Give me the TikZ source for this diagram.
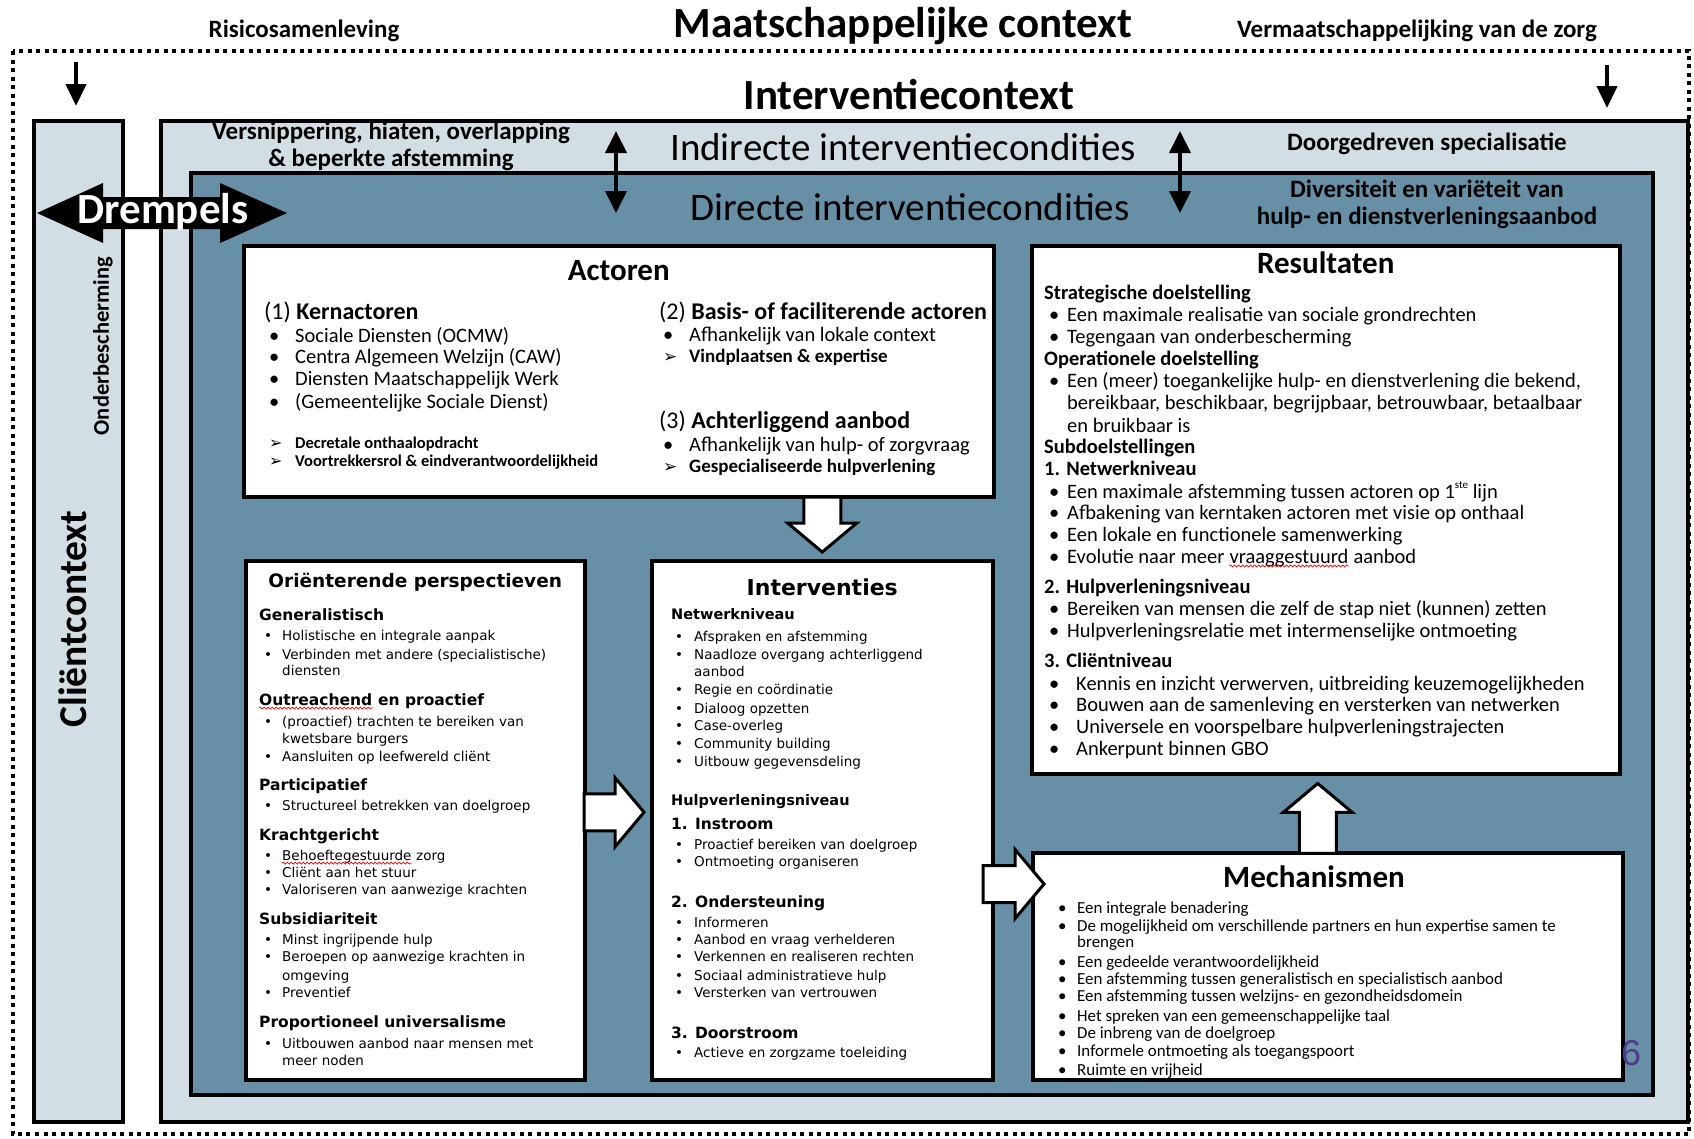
\documentclass[tikz,border=0pt]{standalone}
\usepackage{fontspec}
\setmainfont{Carlito}
\newfontfamily\verd{DejaVu Sans}
\newfontfamily\arialfont{Liberation Sans}
\usetikzlibrary{arrows.meta,shapes.arrows,calc,decorations.pathmorphing}

\definecolor{ctxlight}{HTML}{D2DDE4}
\definecolor{ctxdark}{HTML}{678FA6}
\definecolor{slidenr}{HTML}{4E3A8A}

\newcommand{\fs}[1]{\fontsize{#1}{#1}\selectfont}

\tikzset{
  ctxbox/.style={draw, line width=3.5pt, anchor=north west, inner sep=0pt},
  panel/.style={ctxbox, fill=white},
  bigtitle/.style={font=\fs{43}\bfseries},
  condtitle/.style={font=\fs{39}},
  ctxlabel/.style={font=\fontsize{25}{27}\selectfont\bfseries},
  boxtitle/.style={font=\fs{31}\bfseries},
  pushdown/.style={line width=4pt, -{Triangle[length=22pt, width=20pt]}},
  duoarrow/.style={line width=4pt, {Triangle[length=22pt, width=21pt]}-{Triangle[length=22pt, width=21pt]}},
  blockarrow/.style={single arrow, draw, fill=white, line width=3pt, inner sep=0pt, anchor=tip,
    text height=34pt, text depth=0pt, single arrow head extend=16pt, single arrow tip angle=100},
  spellwave/.style={red, line width=.7pt, decorate, decoration={snake, amplitude=1pt, segment length=4pt}},
  tl/.style={anchor=base west, inner sep=0pt},
  % Actoren
  act-h/.style={tl, yshift=-7pt, font=\fs{24}},
  act-b/.style={tl, yshift=-6pt, font=\fs{20.5}, execute at begin node={\makebox[26pt][l]{•}}},
  act-s/.style={tl, yshift=-5pt, font=\fs{16.5}\bfseries, execute at begin node={\makebox[26pt][l]{\verd\fs{16}➢}}},
  act-a/.style={tl, yshift=-5.5pt, font=\fs{19}\bfseries, execute at begin node={\makebox[26pt][l]{\verd\fs{17}➢}}},
  % Resultaten
  res-h/.style={tl, xshift=-5pt, yshift=-6pt, font=\fs{20.5}\bfseries},
  res-b/.style={tl, yshift=-6pt, font=\fs{20.5}, execute at begin node={\makebox[18pt][l]{•}}},
  res-c/.style={tl, xshift=18pt, yshift=-6pt, font=\fs{20.5}},
  res-d/.style={tl, yshift=-6pt, font=\fs{20.5}, execute at begin node={\makebox[27pt][l]{•}}},
  % Orienterende perspectieven
  or-h/.style={tl, xshift=-5pt, yshift=-5pt, font=\verd\bfseries\fs{15.5}},
  or-b/.style={tl, yshift=-4pt, font=\verd\fs{13.5}, execute at begin node={\makebox[18pt][l]{•}}},
  or-c/.style={tl, xshift=18pt, yshift=-4pt, font=\verd\fs{13.5}},
  % Interventies
  int-h/.style={tl, xshift=-4pt, yshift=-4.5pt, font=\verd\bfseries\fs{14.5}},
  int-s/.style={tl, xshift=-4pt, yshift=-5pt, font=\verd\bfseries\fs{15.5}},
  int-b/.style={tl, yshift=-4pt, font=\verd\fs{13.5}, execute at begin node={\makebox[19pt][l]{•}}},
  int-c/.style={tl, xshift=19pt, yshift=-4pt, font=\verd\fs{13.5}},
  % Mechanismen
  mech-b/.style={tl, yshift=-5pt, font=\fs{16.9}, execute at begin node={\makebox[19pt][l]{•}}},
  mech-c/.style={tl, xshift=19pt, yshift=-5pt, font=\fs{16.9}},
}

\begin{document}
\begin{tikzpicture}[x=1pt, y=-1pt]
\useasboundingbox (0,0) rectangle (1694,1138);

% maatschappelijke context
\draw[line width=4.5pt, dash pattern=on 4pt off 4.5pt] (13,51) rectangle (1689,1134);
\node[bigtitle] (maatsch) at (903,26) {Maatschappelijke context};
\node[ctxlabel] (risico) at (304,31) {Risicosamenleving};
\node[ctxlabel] (vermaat) at (1417,31) {Vermaatschappelijking van de zorg};
\coordinate (risico-a) at (76,62);
\coordinate (risico-b) at (76,106);
\coordinate (vermaat-a) at (1607,65);
\coordinate (vermaat-b) at (1607,108);
\draw[pushdown] (risico-a) -- (risico-b);
\draw[pushdown] (vermaat-a) -- (vermaat-b);

% clientcontext
\node[ctxbox, fill=ctxlight, minimum width=89, minimum height=1001] (client) at (32,119) {};
\node[rotate=90, font=\fs{39.5}\bfseries] (clienttxt) at (73,619) {Cliëntcontext};
\node[rotate=90, font=\fs{22.5}\bfseries] (onderb) at (103,346) {Onderbescherming};

% interventiecontext
\node[bigtitle] (intctxtxt) at (909,95) {Interventiecontext};
\node[ctxbox, fill=ctxlight, minimum width=1527, minimum height=1001] (intctx) at (159,119) {};
\node[ctxbox, fill=ctxdark, minimum width=1462, minimum height=922] (direct) at (189,171) {};
\node[ctxlabel, align=center] (versn) at (391,146.5) {Versnippering, hiaten, overlapping\\\& beperkte afstemming};
\node[condtitle] (indirect) at (903,147) {Indirecte interventiecondities};
\node[condtitle] (directtxt) at (910,207) {Directe interventiecondities};
\node[ctxlabel] (doorg) at (1427,144) {Doorgedreven specialisatie};
\node[ctxlabel, align=center] (divers) at (1427,204) {Diversiteit en variëteit van\\hulp- en dienstverleningsaanbod};
\coordinate (duo1-a) at (616,131);
\coordinate (duo1-b) at (616,213);
\coordinate (duo2-a) at (1180,131);
\coordinate (duo2-b) at (1180,213);
\draw[duoarrow] (duo1-a) -- (duo1-b);
\draw[duoarrow] (duo2-a) -- (duo2-b);

% drempels
\fill (37,213) -- (103,183) -- (103,197) -- (220,197) -- (220,183) -- (287,213)
  -- (220,243) -- (220,229) -- (103,229) -- (103,243) -- cycle;
\node[font=\fs{43}\bfseries, text=white] (drempels) at (163,212) {Drempels};

% panels
\node[panel, minimum width=750, minimum height=251] (actoren) at (242,244) {};
\node[panel, minimum width=588, minimum height=528] (result) at (1030,244) {};
\node[panel, minimum width=339, minimum height=519] (orient) at (244,559) {};
\node[panel, minimum width=341, minimum height=519] (interv) at (650,559) {};
\node[panel, minimum width=590, minimum height=227] (mech) at (1031,851) {};

\node[boxtitle] (actoren-t) at ([yshift=-27pt]actoren.north) {Actoren};
\node[boxtitle] (result-t) at ([yshift=-19pt]result.north) {Resultaten};
\node[font=\verd\bfseries\fs{18.5}] (orient-t) at ([yshift=-23pt]orient.north) {Oriënterende perspectieven};
\node[font=\verd\bfseries\fs{22}] (interv-t) at ([yshift=-28pt]interv.north) {Interventies};
\node[boxtitle] (mech-t) at (1314,877) {Mechanismen};

% actoren
\foreach \k/\x/\y/\t [count=\i] in {
  h/264/312/{(1) \textbf{Kernactoren}},
  b/269/336/Sociale Diensten (OCMW),
  b/269/357/Centra Algemeen Welzijn (CAW),
  b/269/379/Diensten Maatschappelijk Werk,
  b/269/402/(Gemeentelijke Sociale Dienst),
  s/269/443/Decretale onthaalopdracht,
  s/269/461/Voortrekkersrol \& eindverantwoordelijkheid,
  h/659/312/{(2) \textbf{Basis- of faciliterende actoren}},
  b/663/335/Afhankelijk van lokale context,
  a/663/357/Vindplaatsen \& expertise,
  h/659/421/{(3) \textbf{Achterliggend aanbod}},
  b/663/445/Afhankelijk van hulp- of zorgvraag,
  a/663/467/Gespecialiseerde hulpverlening}
  \node[act-\k] (act\i) at (\x,\y) {\t};

% resultaten
\foreach \k/\y/\t [count=\i] in {
  h/293/Strategische doelstelling,
  b/315/Een maximale realisatie van sociale grondrechten,
  b/337/Tegengaan van onderbescherming,
  h/359/Operationele doelstelling,
  b/381/{Een (meer) toegankelijke hulp- en dienstverlening die bekend,},
  c/403/{bereikbaar, beschikbaar, begrijpbaar, betrouwbaar, betaalbaar},
  c/426/en bruikbaar is,
  h/447/Subdoelstellingen,
  h/469/1. Netwerkniveau,
  b/492/Een maximale afstemming tussen actoren op 1\raisebox{.45em}{\fs{11}ste} lijn,
  b/513/Afbakening van kerntaken actoren met visie op onthaal,
  b/535/Een lokale en functionele samenwerking,
  h/587/2. Hulpverleningsniveau,
  b/609/Bereiken van mensen die zelf de stap niet (kunnen) zetten,
  b/631/Hulpverleningsrelatie met intermenselijke ontmoeting,
  h/661/3. Cliëntniveau,
  d/684/{Kennis en inzicht verwerven, uitbreiding keuzemogelijkheden},
  d/705/Bouwen aan de samenleving en versterken van netwerken,
  d/727/Universele en voorspelbare hulpverleningstrajecten,
  d/749/Ankerpunt binnen GBO}
  \node[res-\k] (res\i) at (1049,\y) {\t};
\node[res-b] (evol) at (1049,557) {Evolutie naar meer\ \null};
\node[tl, font=\fs{20.5}] (vraag) at (evol.base east) {vraaggestuurd};
\node[tl, font=\fs{20.5}] (evol-end) at (vraag.base east) {~aanbod};
\draw[spellwave] ([yshift=-3pt]vraag.base west) -- ([yshift=-3pt]vraag.base east);

% orienterende perspectieven
\foreach \k/\y/\t [count=\i] in {
  h/615/Generalistisch,
  b/636/Holistische en integrale aanpak,
  b/655/Verbinden met andere (specialistische),
  c/671/diensten,
  b/722/(proactief) trachten te bereiken van,
  c/739/kwetsbare burgers,
  b/757/Aansluiten op leefwereld cliënt,
  h/785/Participatief,
  b/806/Structureel betrekken van doelgroep,
  h/835/Krachtgericht,
  b/873/Cliënt aan het stuur,
  b/890/Valoriseren van aanwezige krachten,
  h/919/Subsidiariteit,
  b/940/Minst ingrijpende hulp,
  b/957/Beroepen op aanwezige krachten in,
  c/976/omgeving,
  b/993/Preventief,
  h/1022/Proportioneel universalisme,
  b/1044/Uitbouwen aanbod naar mensen met,
  c/1061/meer noden}
  \node[or-\k] (or\i) at (264,\y) {\t};
\node[or-h] (outr) at (264,700) {Outreachend};
\node[tl, font=\verd\bfseries\fs{15.5}] (outr-end) at (outr.base east) {~en proactief};
\draw[spellwave] ([yshift=-3pt]outr.base west) -- ([yshift=-3pt]outr.base east);
\node[or-c] (behoefte) at (264,856) {Behoeftegestuurde};
\node[tl, font=\verd\fs{13.5}] (behoefte-end) at (behoefte.base east) {~zorg};
\node[tl, font=\verd\fs{13.5}, yshift=-4pt] (behoefte-bul) at (264,856) {•};
\draw[spellwave] ([yshift=-3pt]behoefte.base west) -- ([yshift=-3pt]behoefte.base east);

% interventies
\foreach \k/\y/\t [count=\i] in {
  h/615/Netwerkniveau,
  b/637/Afspraken en afstemming,
  b/655/Naadloze overgang achterliggend,
  c/672/aanbod,
  b/690/Regie en coördinatie,
  b/709/Dialoog opzetten,
  b/726/Case-overleg,
  b/744/Community building,
  b/762/Uitbouw gegevensdeling,
  h/801/Hulpverleningsniveau,
  s/824/1. Instroom,
  b/845/Proactief bereiken van doelgroep,
  b/862/Ontmoeting organiseren,
  s/902/2. Ondersteuning,
  b/923/Informeren,
  b/940/Aanbod en vraag verhelderen,
  b/957/Verkennen en realiseren rechten,
  b/976/Sociaal administratieve hulp,
  b/993/Versterken van vertrouwen,
  s/1033/3. Doorstroom,
  b/1053/Actieve en zorgzame toeleiding}
  \node[int-\k] (int\i) at (675,\y) {\t};

% mechanismen
\foreach \k/\y/\t [count=\i] in {
  b/908/Een integrale benadering,
  b/926/De mogelijkheid om verschillende partners en hun expertise samen te,
  c/942/brengen,
  b/962/Een gedeelde verantwoordelijkheid,
  b/979/Een afstemming tussen generalistisch en specialistisch aanbod,
  b/996/Een afstemming tussen welzijns- en gezondheidsdomein,
  b/1016/Het spreken van een gemeenschappelijke taal,
  b/1033/De inbreng van de doelgroep,
  b/1051/Informele ontmoeting als toegangspoort,
  b/1070/Ruimte en vrijheid}
  \node[mech-\k] (mech\i) at (1058,\y) {\t};

% block arrows between panels
\node[blockarrow, rotate=-90, minimum height=55] (act-int) at ($(interv.north)+(0,-5)$) {};
\node[blockarrow, minimum height=60] (or-int) at ($(interv.west)+(-4,-8)$) {};
\node[blockarrow, minimum height=61] (int-mech) at ($(mech.north west)+(15,33)$) {};
\node[blockarrow, rotate=90, minimum height=70] (mech-res) at ($(result.south)+(-8,6)$) {};

\node[font=\arialfont\fs{36}, text=slidenr] (slidenum) at (1631,1053) {6};
\end{tikzpicture}
\end{document}
